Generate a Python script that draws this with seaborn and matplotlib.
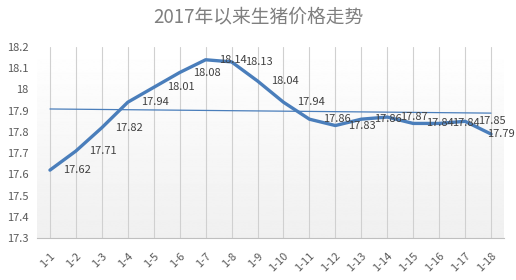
import numpy as np
import pandas as pd
import matplotlib
matplotlib.use("Agg")
import matplotlib.pyplot as plt
import seaborn as sns

categories = ["1-1", "1-2", "1-3", "1-4", "1-5", "1-6", "1-7", "1-8", "1-9",
              "1-10", "1-11", "1-12", "1-13", "1-14", "1-15", "1-16", "1-17", "1-18"]
prices = [17.62, 17.71, 17.82, 17.94, 18.01, 18.08, 18.14, 18.13, 18.04,
          17.94, 17.86, 17.83, 17.86, 17.87, 17.84, 17.84, 17.85, 17.79]
y_ticks = [17.3, 17.4, 17.5, 17.6, 17.7, 17.8, 17.9, 18.0, 18.1, 18.2]
y_tick_labels = ["17.3", "17.4", "17.5", "17.6", "17.7", "17.8", "17.9", "18", "18.1", "18.2"]
title = "2017年以来生猪价格走势"

sns.set_theme(style="white")
plt.rcParams['font.family'] = ['Noto Sans CJK SC', 'DejaVu Sans']

df = pd.DataFrame({"x": np.arange(len(categories)), "price": prices})

fig = plt.figure(figsize=(5.16, 2.80), dpi=100)
ax = fig.add_axes([0.0717, 0.15, 0.905, 0.682])

# gradient background
grad = np.linspace(1.0, 0.94, 256).reshape(-1, 1)
ax.imshow(grad, cmap="gray", vmin=0, vmax=1, aspect="auto",
          extent=[0, 1, 0, 1], transform=ax.transAxes, zorder=0)

line_color = "#4a7ebb"
sns.lineplot(data=df, x="x", y="price", ax=ax, color=line_color, linewidth=2.4, zorder=3)

# linear trendline
coef = np.polyfit(df["x"], df["price"], 1)
tx = df["x"].to_numpy()
ax.plot(tx, np.polyval(coef, tx), color=line_color, linewidth=0.9, zorder=2)

# data labels (to the right of each point; the last one is pushed inside)
n = len(prices)
for i, (xi, v) in enumerate(zip(df["x"], prices)):
    dx = 9.5 if i < n - 1 else -3
    ax.annotate(f"{v:g}", (xi, v), xytext=(dx, 0), textcoords="offset points",
                ha="left", va="center", fontsize=8, color="#404040",
                zorder=4, annotation_clip=False)

ax.set_xlim(-0.5, len(categories) - 0.5)
ax.set_ylim(17.3, 18.2)
ax.set_yticks(y_ticks)
ax.set_yticklabels(y_tick_labels, fontsize=8, color="#595959")
ax.set_xticks(df["x"])
ax.set_xticklabels(categories, rotation=45, ha="right", rotation_mode="anchor",
                   fontsize=8, color="#595959")
ax.set_xticks(np.arange(-0.5, len(categories)), minor=True)
ax.tick_params(axis="x", which="major", length=0, pad=9)
ax.tick_params(axis="x", which="minor", length=4, color="#bfbfbf", width=0.8)
ax.tick_params(axis="y", length=0, pad=6)
ax.grid(axis="x", which="major", color="#d0d0d0", linewidth=0.8, zorder=1)
ax.grid(axis="y", visible=False)
ax.set_axisbelow(True)
ax.set_xlabel("")
ax.set_ylabel("")
for s in ["top", "right", "left"]:
    ax.spines[s].set_visible(False)
ax.spines["bottom"].set_color("#bfbfbf")
ax.spines["bottom"].set_linewidth(0.8)

fig.text(0.5, 0.938, title, ha="center", va="center", fontsize=13.5, color="#7f7f7f")

fig.savefig("out.png", dpi=100)
